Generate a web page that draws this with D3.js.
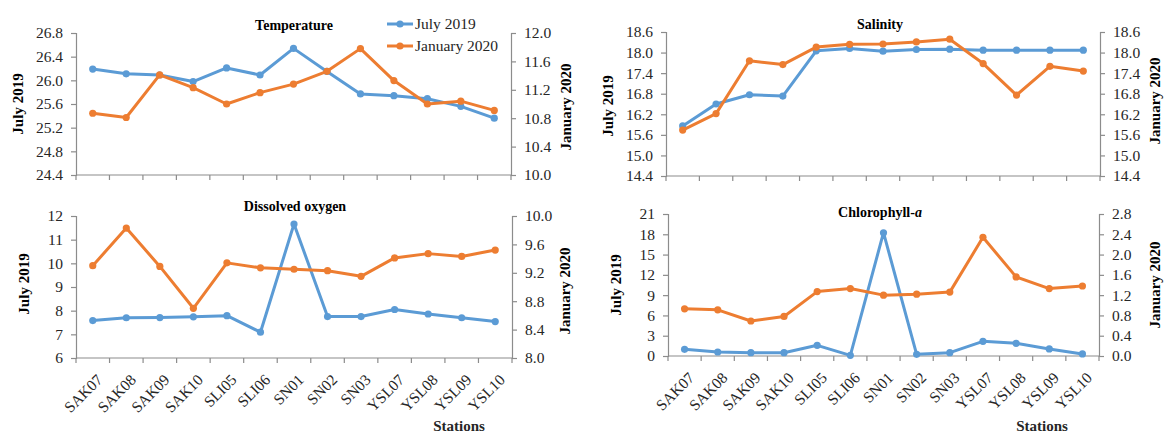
<!DOCTYPE html>
<html>
<head>
<meta charset="utf-8">
<script src="https://cdn.jsdelivr.net/npm/d3@7/dist/d3.min.js"></script>
<style>
  html, body { margin: 0; padding: 0; background: #fff; }
</style>
</head>
<body>
<svg id="chart" width="1164" height="434" font-family="Liberation Serif, Times New Roman, serif"></svg>
<script>
// Sampling stations along the x axis
const stations = ["SAK07","SAK08","SAK09","SAK10","SLI05","SLI06","SN01","SN02","SN03","YSL07","YSL08","YSL09","YSL10"];

// Temperature (°C)
const tempJul = [26.19, 26.11, 26.09, 25.98, 26.21, 26.09, 26.54, 26.15, 25.77, 25.74, 25.69, 25.56, 25.36];
const tempJan = [10.87, 10.81, 11.41, 11.23, 11.00, 11.16, 11.28, 11.46, 11.78, 11.33, 11.00, 11.04, 10.91];

// Salinity
const salJul = [15.86, 16.50, 16.77, 16.73, 18.05, 18.12, 18.04, 18.09, 18.10, 18.07, 18.07, 18.07, 18.07];
const salJan = [15.74, 16.22, 17.76, 17.65, 18.16, 18.24, 18.25, 18.31, 18.39, 17.68, 16.76, 17.60, 17.46];

// Dissolved oxygen (mg/L)
const doJul = [7.58, 7.70, 7.71, 7.74, 7.79, 7.09, 11.66, 7.75, 7.75, 8.05, 7.86, 7.70, 7.54];
const doJan = [9.30, 9.83, 9.29, 8.70, 9.34, 9.27, 9.25, 9.23, 9.15, 9.41, 9.47, 9.43, 9.52];

// Chlorophyll-a (µg/L)
const chlJul = [0.99, 0.59, 0.49, 0.49, 1.58, 0.10, 18.23, 0.25, 0.49, 2.17, 1.88, 1.04, 0.30];
const chlJan = [0.93, 0.91, 0.69, 0.78, 1.27, 1.33, 1.20, 1.22, 1.26, 2.34, 1.56, 1.33, 1.38];

// Axis tick values
const tempTicksL = [24.4, 24.8, 25.2, 25.6, 26.0, 26.4, 26.8];
const tempTicksR = [10.0, 10.4, 10.8, 11.2, 11.6, 12.0];
const salTicks   = [14.4, 15.0, 15.6, 16.2, 16.8, 17.4, 18.0, 18.6];
const doTicksL   = [6, 7, 8, 9, 10, 11, 12];
const doTicksR   = [8.0, 8.4, 8.8, 9.2, 9.6, 10.0];
const chlTicksL  = [0, 3, 6, 9, 12, 15, 18, 21];
const chlTicksR  = [0.0, 0.4, 0.8, 1.2, 1.6, 2.0, 2.4, 2.8];

const seriesNames = ["July 2019", "January 2020"];

const SERIF = "Liberation Serif, Times New Roman, serif";
const BLUE = "#5B9BD5", ORANGE = "#ED7D31", AXIS = "#8C8C8C", TXT = "#262626";

const svg = d3.select("#chart");

const panels = [
  { title: "Temperature", jul: tempJul, jan: tempJan, ticksL: tempTicksL, ticksR: tempTicksR,
    fmtL: d3.format(".1f"), fmtR: d3.format(".1f"),
    x0: 76, x1: 511, y0: 33, y1: 175, titleX: 294, titleY: 30, labels: false, legend: true,
    ltX: 18, ltY: 104, rtX: 566, rtY: 107 },
  { title: "Salinity", jul: salJul, jan: salJan, ticksL: salTicks, ticksR: salTicks,
    fmtL: d3.format(".1f"), fmtR: d3.format(".1f"),
    x0: 666, x1: 1100, y0: 32, y1: 176, titleX: 880, titleY: 29, labels: false,
    ltX: 608, ltY: 106, rtX: 1155, rtY: 101 },
  { title: "Dissolved oxygen", jul: doJul, jan: doJan, ticksL: doTicksL, ticksR: doTicksR,
    fmtL: d3.format("d"), fmtR: d3.format(".1f"),
    x0: 76, x1: 512, y0: 216, y1: 358, titleX: 295, titleY: 211, labels: true,
    ltX: 24, ltY: 284, rtX: 565, rtY: 291, stX: 459 },
  { title: "Chlorophyll-", italic: "a", jul: chlJul, jan: chlJan, ticksL: chlTicksL, ticksR: chlTicksR,
    fmtL: d3.format("d"), fmtR: d3.format(".1f"),
    x0: 668, x1: 1099, y0: 214, y1: 356, titleX: 880, titleY: 217, labels: true,
    ltX: 616, ltY: 285, rtX: 1155, rtY: 285, stX: 1042 }
];

panels.forEach(p => {
  const g = svg.append("g");
  const x = d3.scaleBand().domain(stations).range([p.x0, p.x1]).padding(0);
  const yL = d3.scaleLinear().domain(d3.extent(p.ticksL)).range([p.y1, p.y0]);
  const yR = d3.scaleLinear().domain(d3.extent(p.ticksR)).range([p.y1, p.y0]);
  const cx = s => x(s) + x.bandwidth() / 2;

  // Left axis
  const gl = g.append("g").attr("transform", `translate(${p.x0},0)`)
    .call(d3.axisLeft(yL).tickValues(p.ticksL).tickFormat(p.fmtL).tickSizeOuter(0).tickSize(5).tickPadding(8));
  // Right axis
  const gr = g.append("g").attr("transform", `translate(${p.x1},0)`)
    .call(d3.axisRight(yR).tickValues(p.ticksR).tickFormat(p.fmtR).tickSizeOuter(0).tickSize(5).tickPadding(8));
  [gl, gr].forEach(a => {
    a.attr("font-family", SERIF).attr("font-size", 15.5);
    a.select(".domain").attr("stroke", AXIS).attr("stroke-width", 1.2);
    a.selectAll(".tick line").attr("stroke", AXIS).attr("stroke-width", 1.2);
    a.selectAll(".tick text").attr("fill", TXT);
  });

  // Bottom axis with ticks on category boundaries
  const edges = stations.map(s => x(s)).concat([p.x1]);
  g.append("line").attr("x1", p.x0).attr("x2", p.x1).attr("y1", p.y1).attr("y2", p.y1)
    .attr("stroke", AXIS).attr("stroke-width", 1.2);
  g.selectAll(".xt").data(edges).join("line")
    .attr("x1", d => d).attr("x2", d => d).attr("y1", p.y1).attr("y2", p.y1 + 5)
    .attr("stroke", AXIS).attr("stroke-width", 1.2);

  if (p.labels) {
    g.selectAll(".xl").data(stations).join("text")
      .attr("transform", s => `translate(${cx(s) + 3},${p.y1 + 15}) rotate(-45)`)
      .attr("text-anchor", "end").attr("dy", "0.7em")
      .attr("font-family", SERIF).attr("font-size", 15.5)
      .attr("fill", TXT)
      .text(s => s);
    g.append("text").attr("x", p.stX).attr("y", 431).attr("text-anchor", "middle")
      .attr("font-family", SERIF).attr("font-size", 15)
      .attr("font-weight", "bold").attr("fill", TXT).text("Stations");
  }

  // Series lines and markers
  const series = [
    { vals: p.jul, y: yL, color: BLUE },
    { vals: p.jan, y: yR, color: ORANGE }
  ];
  series.forEach(s => {
    const line = d3.line().x((d, i) => cx(stations[i])).y(d => s.y(d));
    g.append("path").datum(s.vals).attr("d", line).attr("fill", "none")
      .attr("stroke", s.color).attr("stroke-width", 3).attr("stroke-linejoin", "round");
    g.selectAll(null).data(s.vals).join("circle")
      .attr("cx", (d, i) => cx(stations[i])).attr("cy", d => s.y(d)).attr("r", 3.6)
      .attr("fill", s.color);
  });

  // Panel title
  const t = g.append("text").attr("x", p.titleX).attr("y", p.titleY).attr("text-anchor", "middle")
    .attr("font-family", SERIF).attr("font-size", 14)
    .attr("font-weight", "bold").attr("fill", "#000").text(p.title);
  if (p.italic) t.append("tspan").attr("font-style", "italic").text(p.italic);

  // Axis titles
  g.append("text").attr("transform", `translate(${p.ltX},${p.ltY}) rotate(-90)`)
    .attr("text-anchor", "middle").attr("dy", "0.35em").attr("font-weight", "bold")
    .attr("font-family", SERIF).attr("font-size", 15)
    .attr("fill", "#000").text(seriesNames[0]);
  g.append("text").attr("transform", `translate(${p.rtX},${p.rtY}) rotate(-90)`)
    .attr("text-anchor", "middle").attr("dy", "0.35em").attr("font-weight", "bold")
    .attr("font-family", SERIF).attr("font-size", 15)
    .attr("fill", "#000").text(seriesNames[1]);

  // Legend
  if (p.legend) {
    const lg = g.append("g");
    [[BLUE, 24], [ORANGE, 46]].forEach((c, i) => {
      lg.append("line").attr("x1", 387).attr("x2", 413).attr("y1", c[1]).attr("y2", c[1])
        .attr("stroke", c[0]).attr("stroke-width", 3);
      lg.append("circle").attr("cx", 400).attr("cy", c[1]).attr("r", 3.6).attr("fill", c[0]);
      lg.append("text").attr("x", 415).attr("y", c[1]).attr("dy", "0.32em")
        .attr("font-family", SERIF).attr("font-size", 15.5)
        .attr("fill", TXT).text(seriesNames[i]);
    });
  }
});
</script>
</body>
</html>
